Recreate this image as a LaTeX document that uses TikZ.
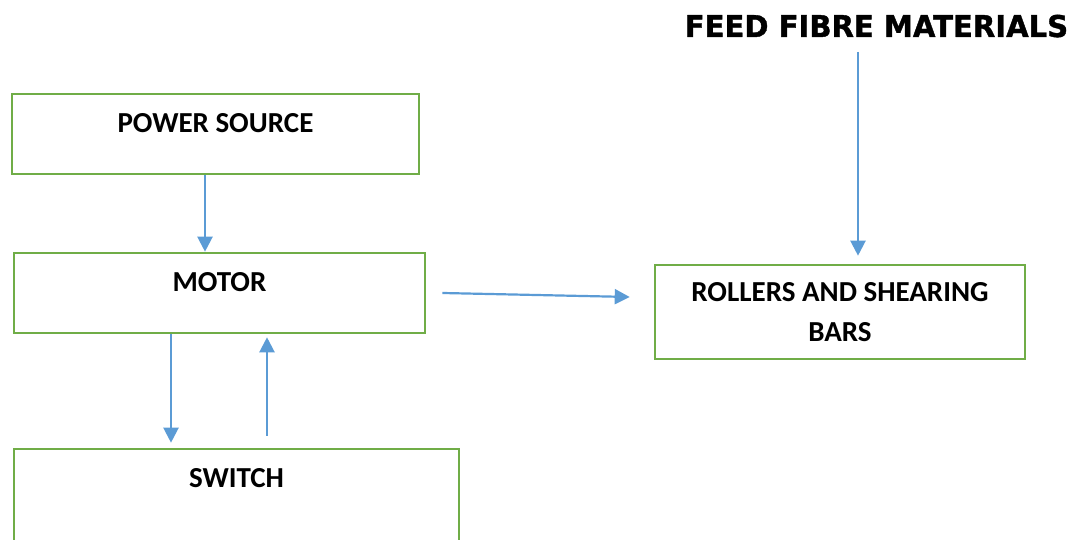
\documentclass[tikz,border=0pt]{standalone}
\usepackage{fontspec}
\usepackage{tikz}
\usetikzlibrary{arrows.meta}
\setmainfont{Carlito}
\newfontfamily\feedfont{DejaVu Sans}[FakeBold=1.2, FakeStretch=0.97]
\definecolor{boxgreen}{RGB}{112,173,71}
\definecolor{flowblue}{RGB}{91,155,213}

\begin{document}
\begin{tikzpicture}[x=1pt, y=1pt,
   box/.style={draw=boxgreen, line width=2.6pt, inner ysep=0pt, text height=39pt, text depth=41pt,
               font=\bfseries\fontsize{29}{40}\selectfont},
   flow/.style={draw=flowblue, line width=2.2pt, -{Triangle[width=15pt,length=15pt]}}]

   \useasboundingbox (0,0) rectangle (1074,540);

   \node[box, minimum width=407pt] (power) at (215.5,406) {POWER SOURCE};
   \node[box, minimum width=411pt] (motor) at (219.5,247) {MOTOR};
   \node[box, minimum width=445pt, text depth=80pt] (switch) at (236.5,31.5) {SWITCH};
   \node[box, text height=, text depth=, inner ysep=3pt, minimum width=370pt, minimum height=94pt, align=center] (rollers) at (840,228) {ROLLERS AND SHEARING\\BARS};
   \node[anchor=base, font=\feedfont\bfseries\fontsize{30}{36}\selectfont] (feed) at (876.5,503) {FEED FIBRE MATERIALS};

   \draw[flow] ([xshift=-10.5pt]power.south) -- ([xshift=-10.5pt]power.south |- motor.north);
   \draw[flow] ([xshift=-48.5pt]motor.south) -- ([xshift=-48.5pt,yshift=5pt]motor.south |- switch.north);
   \draw[flow] ([xshift=47.5pt,yshift=12pt]motor.south |- switch.north) -- ([xshift=47.5pt,yshift=-3pt]motor.south);
   \draw[flow] ([xshift=16pt]motor.east) -- ([xshift=-24pt,yshift=15pt]rollers.west);
   \draw[flow] ([xshift=-18.5pt,yshift=-11pt]feed.south) -- ([xshift=-18.5pt,yshift=8pt]feed.south |- rollers.north);

\end{tikzpicture}
\end{document}
